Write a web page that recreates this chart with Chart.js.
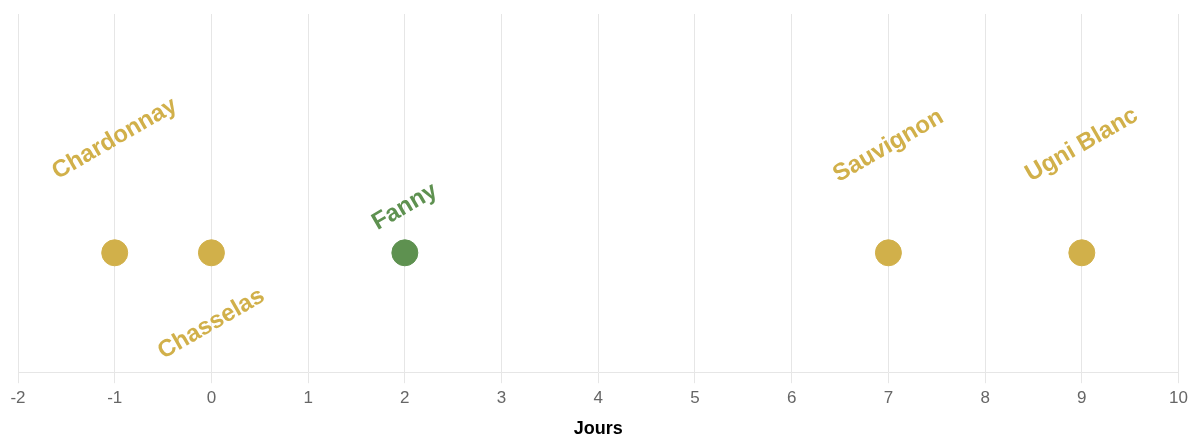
<!DOCTYPE html>
<html>
<head>
<meta charset="utf-8">
<script src="https://cdn.jsdelivr.net/npm/chart.js@4"></script>
<style>
  html, body { margin: 0; padding: 0; background: #fff; }
  #wrap { width: 1193px; height: 436px; }
</style>
</head>
<body>
<div id="wrap"><canvas id="chart"></canvas></div>
<script>
// cépages sur l'axe des jours
const cepages = ["Chardonnay", "Chasselas", "Fanny", "Sauvignon", "Ugni Blanc"];
const jours = [-1, 0, 2, 7, 9];
const couleurs = ["#d1b04a", "#d1b04a", "#5e9150", "#d1b04a", "#d1b04a"];

// label placement (pixels from the dot, negative = above)
const labelOffsets = [-114, 71, -46, -107, -108];

const labelPlugin = {
  id: "cepageLabels",
  afterDatasetsDraw(chart) {
    const ctx = chart.ctx;
    const meta = chart.getDatasetMeta(0);
    ctx.save();
    ctx.font = "bold 24px 'Liberation Sans', Arial, sans-serif";
    ctx.textAlign = "center";
    ctx.textBaseline = "middle";
    meta.data.forEach((pt, i) => {
      ctx.save();
      ctx.translate(pt.x, pt.y + labelOffsets[i]);
      ctx.rotate(-30 * Math.PI / 180);
      ctx.fillStyle = couleurs[i];
      ctx.fillText(cepages[i], 0, 0);
      ctx.restore();
    });
    ctx.restore();
  }
};

new Chart(document.getElementById("chart"), {
  type: "scatter",
  data: {
    datasets: [{
      label: "Cépages",
      data: jours.map(j => ({ x: j, y: 1 })),
      backgroundColor: couleurs,
      borderColor: couleurs,
      pointRadius: 13,
      pointHoverRadius: 13
    }]
  },
  options: {
    responsive: true,
    maintainAspectRatio: false,
    animation: false,
    layout: { padding: { top: 13, left: 18, right: 10, bottom: 0 } },
    scales: {
      x: {
        type: "linear",
        min: -2,
        max: 10,
        ticks: {
          stepSize: 1,
          color: "#666",
          font: { family: "'Liberation Sans', Arial, sans-serif", size: 17 },
          padding: 5
        },
        grid: { color: "#e6e6e6", lineWidth: 1, tickLength: 11 },
        border: { color: "#e6e6e6" },
        title: {
          display: true,
          text: "Jours",
          color: "#000",
          font: { family: "'Liberation Sans', Arial, sans-serif", size: 18, weight: "bold", lineHeight: 0.8 },
          padding: { top: 8, bottom: 0 }
        }
      },
      y: {
        display: false,
        min: 0,
        max: 3
      }
    },
    plugins: {
      legend: { display: false },
      tooltip: { enabled: false }
    }
  },
  plugins: [labelPlugin]
});
</script>
</body>
</html>
